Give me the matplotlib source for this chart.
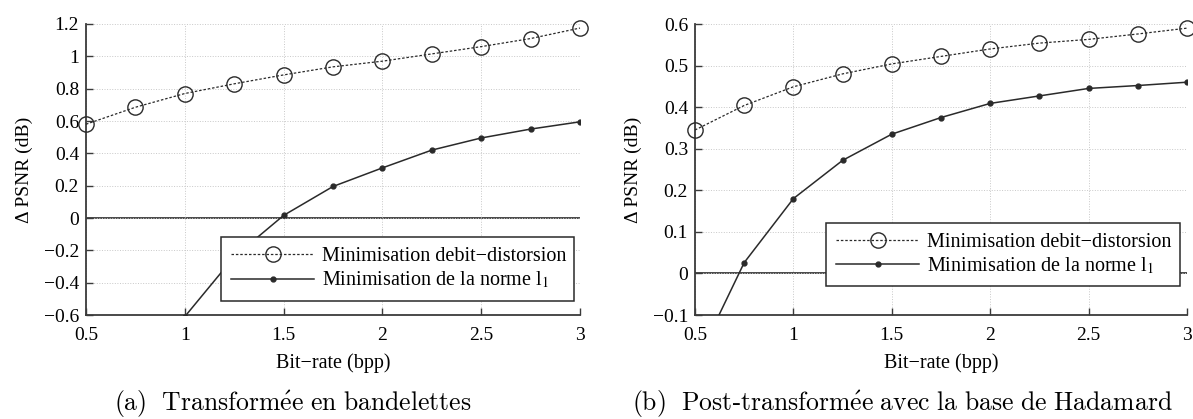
import numpy as np
import matplotlib
matplotlib.use("Agg")
import matplotlib.pyplot as plt
from matplotlib.ticker import FuncFormatter

plt.rcParams['font.family'] = ['Liberation Serif', 'DejaVu Serif']
plt.rcParams['mathtext.fontset'] = 'stix'

# bit-rate values (bpp)
bitrate = [0.5, 0.75, 1.0, 1.25, 1.5, 1.75, 2.0, 2.25, 2.5, 2.75, 3.0]

# (a) bandelettes
rd_a = [0.58, 0.685, 0.77, 0.83, 0.885, 0.935, 0.97, 1.015, 1.06, 1.11, 1.175]
l1_a = [np.nan, np.nan, -0.61, -0.24, 0.016, 0.195, 0.31, 0.42, 0.495, 0.55, 0.595]

# (b) Hadamard post-transform
rd_b = [0.345, 0.404, 0.449, 0.48, 0.504, 0.522, 0.54, 0.554, 0.563, 0.576, 0.59]
l1_b = [-0.22, 0.026, 0.18, 0.272, 0.335, 0.375, 0.409, 0.427, 0.445, 0.452, 0.46]

yticks_a = [-0.6, -0.4, -0.2, 0, 0.2, 0.4, 0.6, 0.8, 1.0, 1.2]
yticks_b = [-0.1, 0, 0.1, 0.2, 0.3, 0.4, 0.5, 0.6]
xticks = [0.5, 1, 1.5, 2, 2.5, 3]

label_rd = "Minimisation debit\u2212distorsion"
label_l1 = "Minimisation de la norme l$_1$"

cap_a = r"$\mathrm{(a)\ \ Transform\acute{e}e\ en\ bandelettes}$"
cap_b = r"$\mathrm{(b)\ \ Post}$-$\mathrm{transform\acute{e}e\ avec\ la\ base\ de\ Hadamard}$"

LC = '#2a2a2a'


def fmt(v, pos):
    return ('%g' % round(v, 3)).replace('-', '\u2212')


def draw(ax, rd, l1, yticks, leg_box):
    ax.axhline(0, color='#3a3a3a', lw=1.3, zorder=1)
    ax.plot(bitrate, rd, ls=(0, (2, 1.5)), lw=0.9, color=LC, marker='o',
            markersize=11, markerfacecolor='none', markeredgecolor=LC,
            markeredgewidth=1.0, clip_on=False, zorder=3, label=label_rd)
    ax.plot(bitrate, l1, ls='-', lw=1.1, color=LC, marker='o', markersize=3.5,
            markerfacecolor=LC, markeredgecolor=LC, zorder=3, label=label_l1)
    ax.set_xlim(0.5, 3)
    ax.set_ylim(yticks[0], yticks[-1])
    ax.set_xticks(xticks)
    ax.set_yticks(yticks)
    ax.xaxis.set_major_formatter(FuncFormatter(fmt))
    ax.yaxis.set_major_formatter(FuncFormatter(fmt))
    ax.grid(True, ls=':', lw=0.7, color='#c8c8c8')
    for s in ['top', 'right']:
        ax.spines[s].set_visible(False)
    for s in ['left', 'bottom']:
        ax.spines[s].set_color('#3a3a3a')
        ax.spines[s].set_linewidth(1.3)
    ax.tick_params(direction='in', length=5, width=1.0, color='#3a3a3a',
                   labelsize=14, pad=5)
    ax.tick_params(axis='x', pad=9)
    ax.set_xlabel("Bit\u2212rate (bpp)", fontsize=14.5, labelpad=6)
    ax.set_ylabel("\u0394 PSNR (dB)", fontsize=14, labelpad=8)
    leg = ax.legend(loc='lower left', bbox_to_anchor=leg_box, mode='expand',
                    borderaxespad=0, fontsize=14.5, handlelength=4.1,
                    handletextpad=0.4, labelspacing=0.2, borderpad=0.5,
                    fancybox=False, framealpha=1, edgecolor='#2a2a2a')
    leg.get_frame().set_linewidth(1.1)
    leg.set_zorder(5)


fig = plt.figure(figsize=(11.93, 4.19), dpi=100)

ax1 = fig.add_axes([86 / 1193, 1 - 315 / 419, 494 / 1193, 291 / 419])
draw(ax1, rd_a, l1_a, yticks_a, (0.274, 0.049, 0.714, 0.246))

ax2 = fig.add_axes([695 / 1193, 1 - 315 / 419, 492 / 1193, 291 / 419])
draw(ax2, rd_b, l1_b, yticks_b, (0.267, 0.098, 0.718, 0.245))

fig.text(293 / 1193, 1 - 411 / 419, cap_a, ha='center', va='baseline',
         fontsize=18.5, math_fontfamily='cm')
fig.text(902 / 1193, 1 - 411 / 419, cap_b, ha='center', va='baseline',
         fontsize=18.5, math_fontfamily='cm')

fig.savefig("out.png", dpi=100)
